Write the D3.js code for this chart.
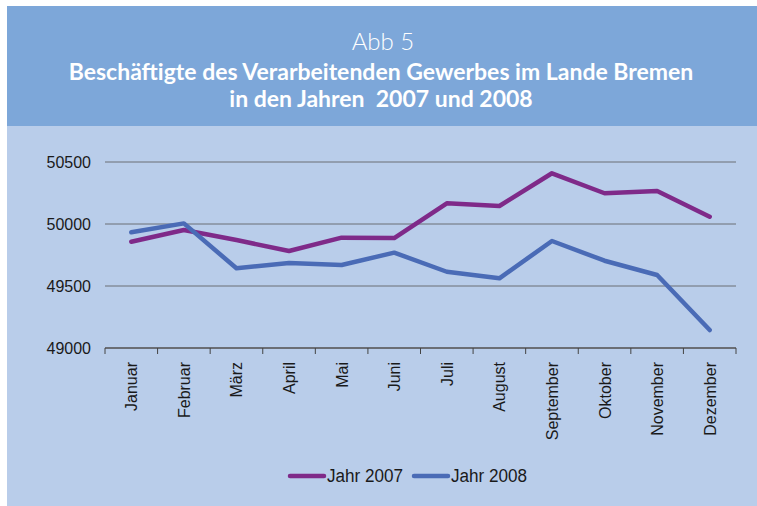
<!DOCTYPE html>
<html>
<head>
<meta charset="utf-8">
<script src="https://cdn.jsdelivr.net/npm/d3@7"></script>
<style>
  body { margin: 0; background: #fff; }
  svg { display: block; }
</style>
</head>
<body>
<div id="chart"></div>
<script>
// months on the x axis
const months = ['Januar', 'Februar', 'März', 'April', 'Mai', 'Juni', 'Juli',
                'August', 'September', 'Oktober', 'November', 'Dezember'];
// employees
const jahr2007 = [49857, 49952, 49871, 49782, 49890, 49887, 50167, 50145, 50409, 50248, 50266, 50059];
const jahr2008 = [49933, 50005, 49643, 49685, 49669, 49769, 49615, 49562, 49863, 49704, 49589, 49145];
const yTicks = [49000, 49500, 50000, 50500];
const seriesNames = ['Jahr 2007', 'Jahr 2008'];

const width = 757,
      height = 506;

const colors = ['#7f2a89', '#4a6bb6'];

var svg = d3.select('#chart')
            .append('svg')
            .attr('width', width)
            .attr('height', height);

//Background panels
svg.append('rect')
   .attr('x', 7).attr('y', 6)
   .attr('width', width - 7).attr('height', height - 6)
   .attr('fill', '#b9cdea');
svg.append('rect')
   .attr('x', 7).attr('y', 6)
   .attr('width', width - 7).attr('height', 120)
   .attr('fill', '#7da7d9');

//Title
var title = svg.append('g')
               .attr('fill', '#fff')
               .style('text-anchor', 'middle')
               .style('font-family', 'Lato, "Open Sans", sans-serif');
title.append('text')
     .text('Abb 5')
     .attr('x', 383).attr('y', 50)
     .style('font-size', '24px')
     .style('font-weight', 300);
title.append('text')
     .text('Beschäftigte des Verarbeitenden Gewerbes im Lande Bremen')
     .attr('x', 381).attr('y', 80)
     .style('font-size', '23px')
     .style('font-weight', 'bold');
title.append('text')
     .text('in den Jahren  2007 und 2008')
     .attr('x', 381).attr('y', 107)
     .style('font-size', '23px')
     .style('font-weight', 'bold')
     .style('white-space', 'pre');

//Scales
var x = d3.scaleBand()
          .domain(months)
          .range([105, 736]);

var y = d3.scaleLinear()
          .domain([49000, 50500])
          .range([348, 162]);

//Grid lines
svg.append('g')
   .selectAll('line')
   .data(yTicks.slice(1))
   .enter()
   .append('line')
   .attr('x1', 105).attr('x2', 736)
   .attr('y1', d => y(d)).attr('y2', d => y(d))
   .attr('stroke', '#6b6e75')
   .attr('stroke-width', 1);

//Y axis labels
var yAxis = svg.append('g')
   .attr('transform', 'translate(105,0)')
   .call(d3.axisLeft(y).tickValues(yTicks).tickSize(0).tickPadding(14).tickFormat(d3.format('d')));
yAxis.select('.domain').remove();
yAxis.selectAll('text')
     .style('font-family', '"Liberation Sans", Arial, sans-serif')
     .style('font-size', '16px')
     .attr('fill', '#1a1a1a');

//X axis with ticks at category boundaries
var xAxis = svg.append('g')
   .attr('transform', 'translate(0,348)');
xAxis.append('line')
     .attr('x1', 105).attr('x2', 736)
     .attr('stroke', '#6b6e75').attr('stroke-width', 2);
xAxis.selectAll('.tick-mark')
     .data(months.concat(['end']))
     .enter()
     .append('line')
     .attr('class', 'tick-mark')
     .attr('x1', (d, i) => i < 12 ? x(d) : x.range()[1])
     .attr('x2', (d, i) => i < 12 ? x(d) : x.range()[1])
     .attr('y1', 0).attr('y2', 6)
     .attr('stroke', '#444').attr('stroke-width', 1);
xAxis.selectAll('.month')
     .data(months)
     .enter()
     .append('text')
     .attr('class', 'month')
     .text(d => d)
     .attr('transform', d => 'translate(' + (x(d) + x.bandwidth() / 2 + 6) + ',14) rotate(-90)')
     .style('text-anchor', 'end')
     .style('font-family', '"Liberation Sans", Arial, sans-serif')
     .style('font-size', '16px')
     .attr('fill', '#1a1a1a');

//Lines
var line = d3.line()
             .x((d, i) => x(months[i]) + x.bandwidth() / 2)
             .y(d => y(d));

[jahr2007, jahr2008].forEach(function (series, k) {
  svg.append('path')
     .datum(series)
     .attr('d', line)
     .attr('fill', 'none')
     .attr('stroke', colors[k])
     .attr('stroke-width', 4.5)
     .attr('stroke-linejoin', 'round')
     .attr('stroke-linecap', 'round');
});

//Legend
var legend = svg.append('g')
                .attr('transform', 'translate(0,476)');
var legendX = [290, 414];
seriesNames.forEach(function (name, k) {
  legend.append('line')
        .attr('x1', legendX[k]).attr('x2', legendX[k] + 34)
        .attr('stroke', colors[k])
        .attr('stroke-width', 4.5)
        .attr('stroke-linecap', 'round');
  legend.append('text')
        .text(name)
        .attr('transform', 'translate(' + (legendX[k] + 37) + ',6) scale(0.9,1)')
        .style('font-family', '"Liberation Sans", Arial, sans-serif')
        .style('font-size', '19px')
        .attr('fill', '#1a1a1a');
});
</script>
</body>
</html>
